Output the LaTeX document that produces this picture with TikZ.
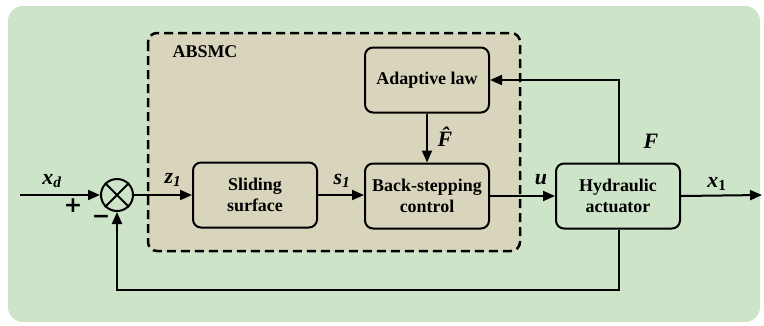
\documentclass[tikz,border=0pt]{standalone}
\usepackage{fontspec}
\setmainfont{Liberation Serif}
\newfontfamily\signfont{DejaVu Sans}
\usetikzlibrary{arrows.meta}
\definecolor{panelgreen}{HTML}{CDE4C8}
\definecolor{ctrltan}{HTML}{D8D5BC}
\begin{document}
\begin{tikzpicture}[x=1bp,y=-1bp,
  block/.style={draw, line width=2bp, rounded corners=8bp, minimum width=124bp,
    minimum height=65bp, inner sep=0pt, align=center,
    font=\fontsize{18}{21}\selectfont\bfseries},
  sig/.style={line width=2bp, -{Triangle[length=12bp,width=10bp]}},
  wire/.style={line width=2bp},
  lbl/.style={font=\fontsize{22}{24}\selectfont\bfseries\itshape, inner sep=0pt},
  sign/.style={font=\signfont\fontsize{22}{24}\selectfont\bfseries, inner sep=0pt}
]
\useasboundingbox (0,0) rectangle (764,325);
% panel and controller region
\fill[panelgreen, rounded corners=15bp] (8,6) rectangle (760,322);
\draw[fill=ctrltan, line width=2.5bp, dash pattern=on 9bp off 5bp, rounded corners=9bp]
  (148,33) rectangle (520,251);
\node[font=\fontsize{18}{21}\selectfont\bfseries] (absmc) at (205,52) {ABSMC};

% blocks
\node[block, fill=ctrltan] (adapt) at (427,80) {Adaptive law};
\node[block, fill=ctrltan] (slide) at (255,195) {Sliding\\surface};
\node[block, fill=ctrltan] (back) at (427,196) {Back-stepping\\control};
\node[block, fill=panelgreen] (hyd) at (618,196) {Hydraulic\\actuator};

% summing junction
\node[circle, draw, line width=2bp, minimum size=32bp, inner sep=0pt] (sum) at (117,195) {};
\draw[wire] (sum.north east) -- (sum.south west) (sum.north west) -- (sum.south east);

% signal coordinates
\coordinate (in) at (20,195);
\coordinate (out) at (762,195);
\coordinate (fbr) at (619,290);
\coordinate (fbl) at (117,290);
\coordinate (ftop) at (619,80);

% connectors
\draw[sig] (in) -- (sum.west);
\draw[sig] (sum.east) -- (slide.west);
\draw[sig] (slide.east) -- (slide.east -| back.west);
\draw[sig] (back.east) -- (back.east -| hyd.west);
\draw[sig] (hyd.east) -- (out);
\draw[sig] (adapt.south) -- (back.north);
\draw[sig] (hyd.north -| ftop) -- (ftop) -- (adapt.east);
\draw[sig] (hyd.south -| fbr) -- (fbr) -- (fbl) -- (sum.south);

% labels
\node[lbl] (lxd) at (52,181) {x\textsubscript{\textit{d}}};
\node[sign] (lplus) at (73,206) {+};
\node[sign] (lminus) at (101,219) {−};
\node[lbl] (lz) at (173,180) {z\textsubscript{\textit{1}}};
\node[lbl] (ls) at (342,181) {s\textsubscript{\textit{1}}};
\node[lbl] (lfh) at (445,137) {\^{F}};
\node[lbl] (lu) at (541,180) {u};
\node[lbl] (lx1) at (717,184) {x\textsubscript{\upshape 1}};
\node[lbl] (lf) at (651,141) {F};
\end{tikzpicture}
\end{document}
